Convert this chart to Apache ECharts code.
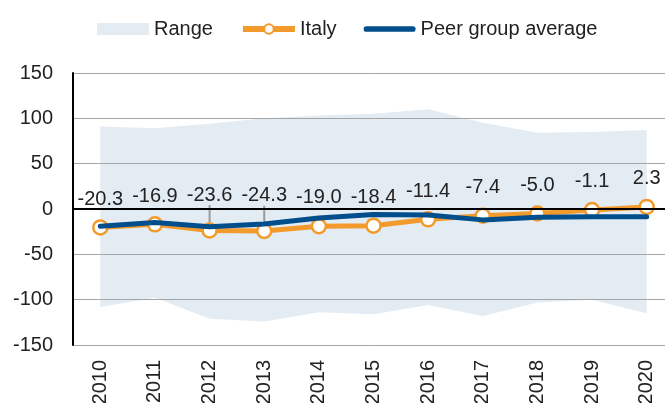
<!DOCTYPE html>
<html>
<head>
<meta charset="utf-8">
<script src="https://cdn.jsdelivr.net/npm/echarts@6/dist/echarts.min.js"></script>
<style>
  html, body { margin: 0; padding: 0; background: #fff; overflow: hidden; }
  #chart { width: 675px; height: 403px; }
</style>
</head>
<body>
<div id="chart"></div>
<script>
// chart data
var years = ['2010', '2011', '2012', '2013', '2014', '2015', '2016', '2017', '2018', '2019', '2020'];
var italy = [-20.3, -16.9, -23.6, -24.3, -19.0, -18.4, -11.4, -7.4, -5.0, -1.1, 2.3];
var peerAvg = [-19, -15, -19.5, -16.5, -10, -6, -6.5, -12, -9, -8.5, -8.5];
var rangeLow = [-108, -98, -121, -124, -114, -116, -106, -118, -103, -100, -115];
var rangeHigh = [91, 89, 94, 100, 103, 105, 110, 95, 84, 85, 87];
// labels that sit a bit higher with a leader line
var pushedLabels = [2, 3];

var rangeSpan = rangeHigh.map(function (h, i) { return h - rangeLow[i]; });
var italyData = italy.map(function (v, i) {
  if (pushedLabels.indexOf(i) >= 0) {
    return { value: v, labelLine: { show: true } };
  }
  return v;
});

var font = "'Liberation Sans', Arial, sans-serif";
var txt = '#222';
var orange = '#F39A2C';
var blue = '#004E8C';
var band = '#E3EBF3';

var mychart = echarts.init(document.getElementById('chart'));
mychart.setOption({
  animation: false,
  textStyle: { fontFamily: font },
  legend: {
    left: 92,
    top: 14,
    itemWidth: 52,
    itemHeight: 12,
    itemGap: 27,
    lineStyle: { width: 6 },
    textStyle: { fontFamily: font, fontSize: 20, color: txt },
    data: [
      { name: 'Range', icon: 'rect', itemStyle: { color: band } },
      { name: 'Italy' },
      {
        name: 'Peer group average',
        icon: 'path://M0,0 L0.01,0 Z M3,3 L52,3 A3,3 0 0 1 52,9 L3,9 A3,3 0 0 1 3,3 Z M0,12 L0.01,12 Z',
        itemStyle: { color: blue }
      }
    ]
  },
  grid: { left: 73, right: 1, top: 73, bottom: 58, outerBoundsMode: 'none', containLabel: false },
  xAxis: {
    type: 'category',
    data: years,
    axisLine: { show: false },
    axisTick: { show: false },
    axisLabel: { rotate: 90, fontSize: 20, color: txt, margin: 15, fontFamily: font }
  },
  yAxis: {
    type: 'value',
    min: -150,
    max: 150,
    interval: 50,
    z: 2,
    axisLine: { show: true, lineStyle: { color: '#000', width: 2 } },
    axisTick: { show: false },
    axisLabel: { fontSize: 20, color: txt, margin: 20, fontFamily: font },
    splitLine: { lineStyle: { color: '#A6A6A6', width: 1 } }
  },
  series: [
    {
      name: 'rangeBase',
      type: 'line',
      stack: 'range',
      stackStrategy: 'all',
      data: rangeLow,
      symbol: 'none',
      lineStyle: { opacity: 0 },
      z: 1,
      silent: true
    },
    {
      name: 'Range',
      type: 'line',
      stack: 'range',
      stackStrategy: 'all',
      data: rangeSpan,
      symbol: 'none',
      lineStyle: { opacity: 0 },
      itemStyle: { color: band },
      areaStyle: { color: band, opacity: 1 },
      z: 1,
      silent: true
    },
    {
      name: 'Italy',
      type: 'line',
      data: italyData,
      z: 3,
      symbol: 'circle',
      symbolSize: 14,
      itemStyle: { color: '#fff', borderColor: orange, borderWidth: 2.5 },
      lineStyle: { color: orange, width: 5 },
      label: {
        show: true,
        position: 'top',
        distance: 10,
        fontSize: 20,
        color: txt,
        fontFamily: font,
        formatter: function (p) { return p.value.toFixed(1); }
      },
      labelLine: { show: false, lineStyle: { color: '#9A9A9A', width: 2 } },
      labelLayout: function (p) {
        if (pushedLabels.indexOf(p.dataIndex) >= 0) return { dy: -7 };
        return {};
      },
      markLine: {
        silent: true,
        symbol: 'none',
        label: { show: false },
        lineStyle: { color: '#000', width: 2, type: 'solid' },
        data: [{ yAxis: 0 }]
      }
    },
    {
      name: 'Peer group average',
      type: 'line',
      data: peerAvg,
      z: 4,
      symbol: 'none',
      itemStyle: { color: blue },
      lineStyle: { color: blue, width: 5, cap: 'round' }
    }
  ]
});
</script>
</body>
</html>
